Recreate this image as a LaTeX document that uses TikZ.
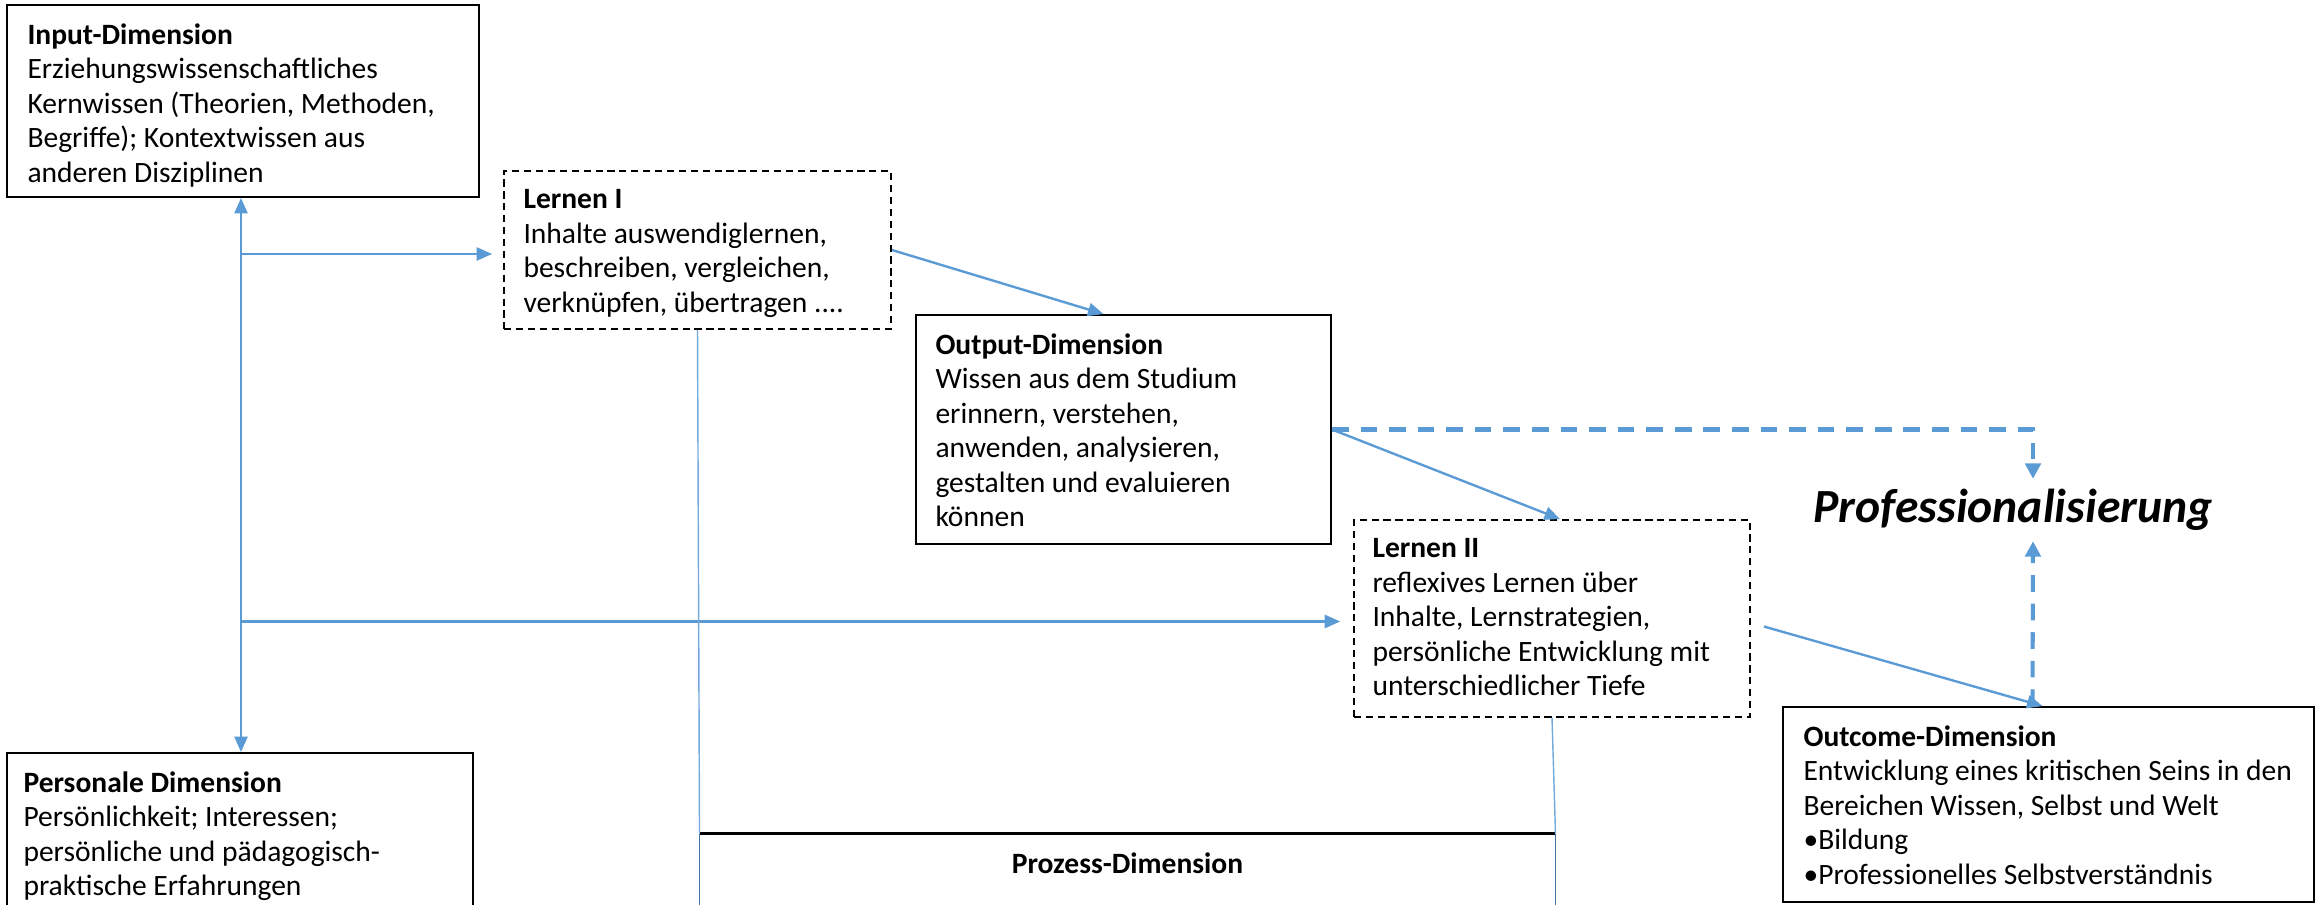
\documentclass[tikz,border=0pt]{standalone}
\usepackage{fontspec}
\setmainfont{Carlito}
\usetikzlibrary{arrows.meta,calc,fit}

\definecolor{linkblue}{HTML}{5B9BD5}
\definecolor{sideblue}{HTML}{41719C}

\tikzset{
  box/.style={draw=black, line width=0.8pt, inner sep=0pt},
  dashbox/.style={box, dash pattern=on 3pt off 2pt},
  txt/.style={anchor=north west, align=left, inner sep=0pt,
    font=\fontsize{12.4}{14.5}\selectfont},
  link/.style={draw=linkblue, line width=1pt,
    -{Triangle[length=6.5pt,width=5.5pt]}},
  duallink/.style={link, {Triangle[length=6.5pt,width=5.5pt]}-{Triangle[length=6.5pt,width=5.5pt]}},
  dashlink/.style={draw=linkblue, line width=1.7pt, dash pattern=on 7pt off 5pt,
    -{Triangle[length=6.5pt,width=6.5pt]}},
  thinlink/.style={draw=linkblue!85, line width=0.6pt},
}

\begin{document}
\begin{tikzpicture}[x=0.42pt, y=-0.42pt]
  \useasboundingbox (0,0) rectangle (2316,904);

  % boxes
  \node[box, fit={(7,5) (479,197)}] (input) {};
  \node[dashbox, fit={(504,171) (891,329)}] (lernenI) {};
  \node[box, fit={(916,315) (1331,544)}] (output) {};
  \node[dashbox, fit={(1354,520) (1750,717)}] (lernenII) {};
  \node[box, fit={(1783,707) (2314,902)}] (outcome) {};
  \node[box, fit={(7,753) (473,940)}] (personale) {};
  \node[inner sep=0pt, fit={(700,834) (1555,940)}] (prozess) {};
  \draw[line width=1.3pt] (prozess.north west) -- (prozess.north east);
  \draw[sideblue, line width=0.8pt] (prozess.north west) -- (prozess.south west)
    (prozess.north east) -- (prozess.south east);

  % texts
  \node[txt] (inputtxt) at ($(input.north west)+(21,19)$)
    {\textbf{Input-Dimension}\\Erziehungswissenschaftliches\\Kernwissen (Theorien, Methoden,\\Begriffe); Kontextwissen aus\\anderen Disziplinen};
  \node[txt] (lernenItxt) at ($(lernenI.north west)+(20,19)$)
    {\textbf{Lernen I}\\Inhalte auswendiglernen,\\beschreiben, vergleichen,\\verknüpfen, übertragen ....};
  \node[txt] (outputtxt) at ($(output.north west)+(20,19)$)
    {\textbf{Output-Dimension}\\Wissen aus dem Studium\\erinnern, verstehen,\\anwenden, analysieren,\\gestalten und evaluieren\\können};
  \node[txt] (lernenIItxt) at ($(lernenII.north west)+(19,19)$)
    {\textbf{Lernen II}\\reflexives Lernen über\\Inhalte, Lernstrategien,\\persönliche Entwicklung mit\\unterschiedlicher Tiefe};
  \node[txt] (outcometxt) at ($(outcome.north west)+(21,19)$)
    {\textbf{Outcome-Dimension}\\Entwicklung eines kritischen Seins in den\\Bereichen Wissen, Selbst und Welt\\•Bildung\\•Professionelles Selbstverständnis};
  \node[txt] (personaletxt) at ($(personale.north west)+(17,19)$)
    {\textbf{Personale Dimension}\\Persönlichkeit; Interessen;\\persönliche und pädagogisch-\\praktische Erfahrungen};
  \node[txt, anchor=north] (prozesstxt) at ($(prozess.north)+(0,19)$)
    {\textbf{Prozess-Dimension}};
  \node[inner sep=0pt, font=\fontsize{20}{24}\selectfont\bfseries\itshape] (prof) at (2013,510)
    {Professionalisierung};

  % connectors
  \draw[duallink] ($(input.south)+(-2,0)$) -- ($(input.south |- personale.north)+(-2,0)$);
  \draw[link, shorten >=4.6pt] ($(input.south |- lernenI.west)+(-2,4)$) -- ($(lernenI.west)+(0,4)$);
  \draw[link, shorten >=5.4pt] ($(input.south |- lernenII.west)+(-2,3)$) -- ($(lernenII.west)+(0,3)$);
  \draw[link] (lernenI.east) -- ($(output.north)+(-20,0)$);
  \draw[link] (output.east) -- ($(lernenII.north)+(8,0)$);
  \draw[link] ($(lernenII.east)+(13,8)$) -- ($(outcome.north)+(-6,0)$);
  \draw[dashlink] (output.east) -| ($(prof.north)+(20,-10)$);
  \draw[dashlink] ($(outcome.north)+(-16,0)$) -- ($(prof.south)+(20,10)$);
  \draw[thinlink] (lernenI.south) -- (prozess.north west);
  \draw[thinlink] (lernenII.south) -- (prozess.north east);
\end{tikzpicture}
\end{document}
